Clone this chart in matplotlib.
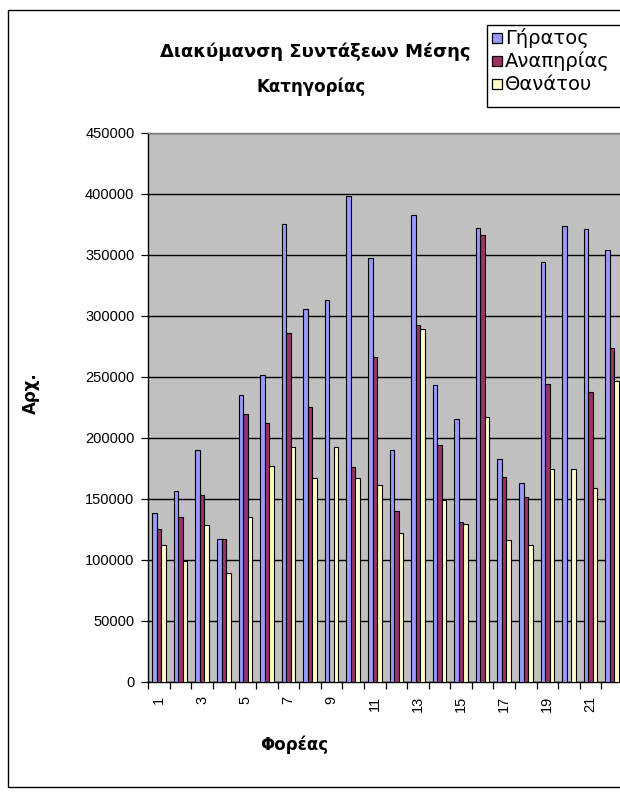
import matplotlib
matplotlib.use("Agg")
import matplotlib.pyplot as plt
from matplotlib.patches import Rectangle
import numpy as np

categories = list(range(1, 23))
gerates = [138000, 156000, 190000, 117000, 235000, 251000, 375000, 305000, 313000, 398000, 347000,
           190000, 382000, 243000, 215000, 372000, 182000, 163000, 344000, 373000, 371000, 354000]
anapirias = [125000, 135000, 153000, 117000, 219000, 212000, 286000, 225000, 0, 176000, 266000,
             140000, 292000, 194000, 131000, 366000, 168000, 151000, 244000, 0, 237000, 273000]
thanatou = [112000, 99000, 128000, 89000, 135000, 177000, 192000, 167000, 192000, 167000, 161000,
            122000, 289000, 149000, 129000, 217000, 116000, 112000, 174000, 174000, 159000, 246000]
series_names = ["Γήρατος", "Αναπηρίας", "Θανάτου"]
series_colors = ["#9999FF", "#993366", "#FFFFCC"]
yticks = list(range(0, 450001, 50000))
xtick_labels = [str(c) for c in categories if c % 2 == 1]

W, H = 620, 794
fig = plt.figure(figsize=(W / 100, H / 100), dpi=100)
fig.patch.set_facecolor("white")

def fx(x):
    return x / W

def fy(y):
    return 1 - y / H

cat_w = 21.57
n_vis = 24
left, right, top, bottom = 148.3, 148.3 + n_vis * cat_w, 132.5, 681.5
ax = fig.add_axes([fx(left), fy(bottom), (right - left) / W, (bottom - top) / H])
ax.set_facecolor("#C0C0C0")

x = np.array(categories, dtype=float)
bw = 0.21
for i, (vals, col) in enumerate(zip([gerates, anapirias, thanatou], series_colors)):
    ax.bar(x + (i - 1) * bw, vals, width=bw, color=col, edgecolor="black",
           linewidth=0.8, zorder=3)

ax.set_xlim(0.5, n_vis + 0.5)
ax.set_ylim(0, 450000)
ax.set_yticks(yticks)
ax.set_yticklabels([str(v) for v in yticks], fontsize=10.5, family="Liberation Sans")
ax.yaxis.grid(True, color="black", linewidth=1.0, zorder=1)
ax.set_axisbelow(True)

ax.set_xticks(np.arange(0.5, n_vis + 1, 1.0))
ax.set_xticklabels([])
odd = [c for c in categories if c % 2 == 1]
ax.set_xticks(odd, minor=True)
ax.set_xticklabels(xtick_labels, minor=True, rotation=90,
                   fontsize=10.5, family="Liberation Sans")
ax.tick_params(axis="x", which="major", direction="out", length=5, width=0.9, color="black")
ax.tick_params(axis="x", which="minor", length=0, pad=10)
ax.tick_params(axis="y", direction="out", length=5, width=0.9, pad=5)

for s in ["left", "bottom"]:
    ax.spines[s].set_color("black")
    ax.spines[s].set_linewidth(1.0)
ax.spines["top"].set_color("#808080")
ax.spines["top"].set_linewidth(1.0)
ax.spines["right"].set_visible(False)

# outer chart border
fig.add_artist(Rectangle((fx(8), fy(787)), fx(800), (787 - 10) / H, fill=False,
                         edgecolor="black", linewidth=1.0, transform=fig.transFigure))

# title (the legend box overlaps its right end, as in the original)
fig.text(fx(160), fy(52), "Διακύμανση Συντάξεων Μέσης", ha="left", va="center",
         fontsize=13, fontweight="bold", family="DejaVu Sans", zorder=2)
fig.text(fx(311), fy(87), "Κατηγορίας", ha="center", va="center",
         fontsize=12, fontweight="bold", family="DejaVu Sans")

# axis labels
fig.text(fx(31), fy(393), "Αρχ.", rotation=90, ha="center", va="center",
         fontsize=12, fontweight="bold", family="DejaVu Sans")
fig.text(fx(294), fy(745), "Φορέας", ha="center", va="center",
         fontsize=12, fontweight="bold", family="DejaVu Sans")

# legend
fig.add_artist(Rectangle((fx(487), fy(107)), fx(300), (107 - 25) / H, facecolor="white",
                         edgecolor="black", linewidth=1.0, transform=fig.transFigure, zorder=5))
for name, col, yy in zip(series_names, series_colors, [38, 61, 84]):
    fig.add_artist(Rectangle((fx(492), fy(yy + 5)), fx(10), 10 / H, facecolor=col,
                             edgecolor="black", linewidth=0.9, transform=fig.transFigure, zorder=6))
    fig.text(fx(505), fy(yy), name, ha="left", va="center", fontsize=14,
             family="DejaVu Sans", zorder=7)

fig.savefig("out.png", dpi=100)
